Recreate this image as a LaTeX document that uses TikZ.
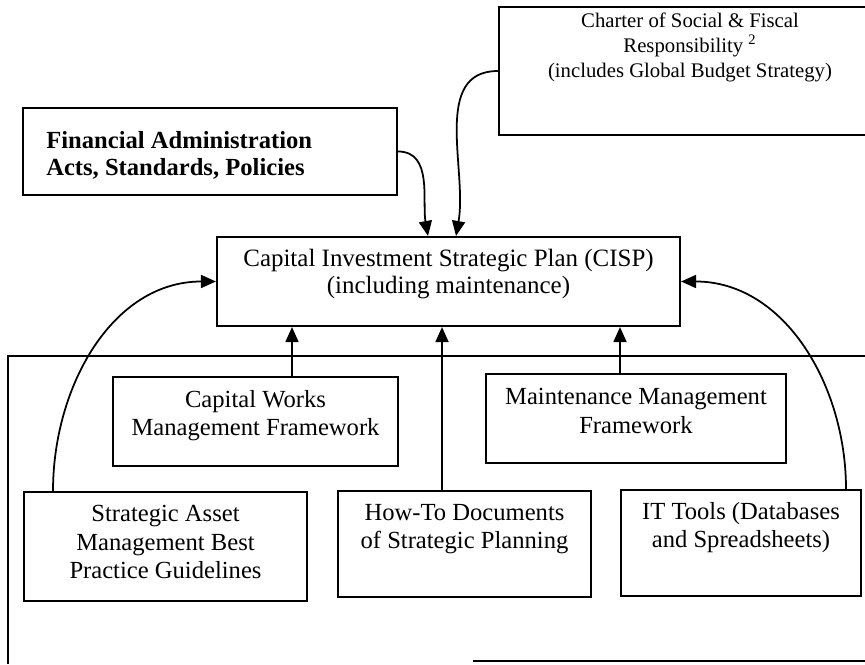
\documentclass[tikz,border=0pt]{standalone}
\usepackage{fontspec}
\setmainfont{Liberation Serif}
\usetikzlibrary{positioning,calc,arrows.meta}

\begin{document}
\begin{tikzpicture}[
  box/.style={draw,line width=1.2pt,shape=rectangle,inner sep=0pt},
  txt/.style={inner sep=0pt,align=center,font=\fontsize{14}{16.2}\selectfont},
  arr/.style={line width=1pt,-{Triangle[length=0.3cm,width=0.26cm]}}]
\useasboundingbox (0,0) rectangle (17.3,13.28);
%
\node[box,minimum width=7.48cm,minimum height=1.74cm] (fin) at (4.20,10.25) {};
\node[box,minimum width=7.64cm,minimum height=2.56cm] (csfr) at (13.80,11.86) {};
\node[box,minimum width=9.26cm,minimum height=1.78cm] (cisp) at (8.97,7.65) {};
\node[box,minimum width=5.70cm,minimum height=1.78cm] (cwmf) at (5.11,4.85) {};
\node[box,minimum width=6.00cm,minimum height=1.78cm] (mmf) at (12.72,4.91) {};
\node[box,minimum width=5.66cm,minimum height=2.18cm] (samg) at (3.31,2.35) {};
\node[box,minimum width=5.06cm,minimum height=2.12cm] (htd) at (9.29,2.40) {};
\node[box,minimum width=4.80cm,minimum height=2.12cm] (itt) at (14.82,2.42) {};
%
\node[txt,align=left,anchor=north west,font=\fontsize{14}{15.4}\selectfont\bfseries] (fin-t) at ([xshift=0.48cm,yshift=-0.48cm]fin.north west) {Financial Administration\\Acts, Standards, Policies};
\node[txt,below=0.13cm of csfr.north,font=\fontsize{11.8}{14.2}\selectfont] (csfr-t) {Charter of Social \& Fiscal\\Responsibility \textsuperscript{2}\\(includes Global Budget Strategy)};
\node[txt,below=0.25cm of cisp.north,font=\fontsize{14.2}{15.4}\selectfont] (cisp-t) {Capital Investment Strategic Plan (CISP)\\(including maintenance)};
\node[txt,below=0.28cm of cwmf.north] (cwmf-t) {Capital Works\\Management Framework};
\node[txt,below=0.30cm of mmf.north] (mmf-t) {Maintenance Management\\Framework};
\node[txt,below=0.28cm of samg.north] (samg-t) {Strategic Asset\\Management Best\\Practice Guidelines};
\node[txt,below=0.28cm of htd.north] (htd-t) {How-To Documents\\of Strategic Planning};
\node[txt,below=0.26cm of itt.north] (itt-t) {IT Tools (Databases\\and Spreadsheets)};
%
\draw[line width=1.2pt] (17.3,6.16) -- (0.16,6.16) -- (0.16,0);
\draw[line width=1.2pt] (9.46,0.06) -- (17.3,0.06);
%
\coordinate (cw1) at ([xshift=0.73cm]cwmf.north);
\coordinate (ht1) at ([xshift=-0.45cm]htd.north);
\coordinate (mm1) at ([xshift=-0.32cm]mmf.north);
\draw[arr] (cw1) -- (cw1 |- cisp.south);
\draw[arr] (ht1) -- (ht1 |- cisp.south);
\draw[arr] (mm1) -- (mm1 |- cisp.south);
\draw[arr] (fin.east) to[out=0,in=100] ([xshift=-0.41cm]cisp.north);
\draw[arr] (csfr.west) to[out=180,in=80] ([xshift=0.15cm]cisp.north);
\draw[arr] ([xshift=-2.25cm]samg.north) to[out=90,in=180] (cisp.west);
\draw[arr] ([xshift=2.10cm]itt.north) to[out=90,in=0] (cisp.east);
%
\end{tikzpicture}
\end{document}
